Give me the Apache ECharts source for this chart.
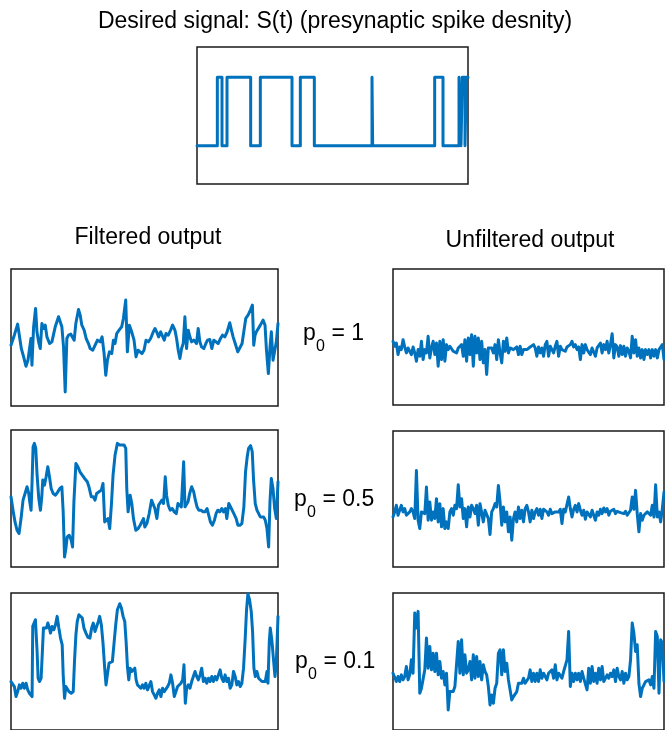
<!DOCTYPE html>
<html>
<head>
<meta charset="utf-8">
<script src="https://cdn.jsdelivr.net/npm/echarts@6/dist/echarts.min.js"></script>
<style>
	html, body { margin: 0; padding: 0; background: #fff; }
	#chart { width: 665px; height: 730px; }
</style>
</head>
<body>
<div id="chart"></div>
<script>

	/*
	 * 期望信号 S(t): 跳变时刻与电平
	 */
	var sTimes = [0, 61, 75, 90, 161, 190, 285, 310, 352, 525, 527, 713, 738, 786, 792, 796, 804, 808, 813];
	var sLevels = [0, 1, 0, 1, 0, 1, 0, 1, 0, 1, 0, 1, 0, 1, 0, 1, 0, 1, 1];

	/*
	 * 滤波输出 (p0 = 1, 0.5, 0.1)
	 */
	var filt1T = [0, 10, 20, 26, 31, 38, 45, 51, 56, 60, 63, 68, 74, 78, 83, 88, 93, 98, 103, 108,
		116, 123, 133, 143, 148, 153, 158, 163, 168, 173, 180, 186, 190, 195, 203, 208, 213, 220, 226, 233,
		238, 246, 253, 260, 268, 274, 280, 285, 290, 296, 303, 308, 313, 318, 325, 333, 338, 345, 350, 356,
		363, 370, 376, 382, 388, 394, 400, 406, 413, 420, 428, 433, 438, 444, 450, 456, 461, 466, 473, 480,
		486, 493, 498, 503, 508, 513, 518, 523, 528, 533, 538, 543, 550, 558, 563, 568, 573, 580, 586, 591,
		598, 604, 610, 616, 623, 630, 636, 643, 650, 658, 663, 668, 676, 682, 688, 695, 701, 706, 713, 720,
		726, 730, 734, 738, 744, 750, 758, 764, 768, 774, 779, 783, 788, 793, 798, 803];
	var filt1V = [-23, 7, 40, 44, -33, -58, -86, -68, -66, -3, -83, 32, 87, 17, -13, -33, 42, 27, 37, 2,
		-18, -13, 32, 62, 67, 32, -28, -163, -3, 7, 10, 14, -8, 42, 84, 67, 37, 22, -3, -18,
		-33, -38, -23, -8, -13, 2, -48, -113, -68, -43, -48, -8, -18, 12, 22, 32, 57, 112, -43, 37,
		17, -8, -58, -38, -33, -48, -38, -8, -13, -3, 17, 27, 17, 2, 17, 20, -8, 12, 7, 22,
		37, 22, -3, -38, -63, -33, -18, 62, -33, 22, 2, -13, -8, -18, 27, -13, -28, -33, -18, -8,
		-6, -33, -8, -13, -18, -3, 7, 2, 17, 44, 22, 2, -23, -43, -48, -18, -23, 57, 67, 82,
		97, -23, 7, 17, 22, 37, 52, 37, -33, -108, -28, 17, -68, -73, -13, 42];

	var filt2T = [0, 6, 12, 18, 24, 30, 36, 42, 48, 53, 56, 60, 63, 66, 70, 74, 78, 83, 88, 92,
		95, 100, 105, 110, 115, 120, 126, 133, 140, 146, 152, 156, 160, 164, 168, 174, 180, 184, 188, 194,
		200, 206, 213, 220, 228, 233, 240, 246, 251, 256, 263, 270, 275, 280, 285, 290, 295, 300, 305, 311,
		318, 325, 330, 338, 343, 346, 350, 356, 361, 366, 373, 380, 386, 391, 396, 400, 406, 413, 420, 425,
		430, 436, 441, 446, 451, 456, 461, 465, 470, 476, 482, 488, 494, 499, 504, 509, 513, 516, 520, 524,
		529, 534, 540, 546, 551, 556, 561, 568, 574, 580, 586, 591, 596, 602, 608, 613, 618, 624, 630, 635,
		641, 645, 651, 656, 661, 666, 673, 678, 684, 690, 696, 701, 706, 710, 716, 721, 725, 730, 735, 740,
		745, 750, 755, 760, 765, 770, 774, 778, 783, 788, 793, 798];
	var filt2V = [5, -35, -70, -95, -105, -60, -5, 15, 35, 15, -10, -35, 50, 155, 165, 150, 70, 0, -35, 5,
		55, 40, 65, 95, 65, 30, 15, 10, 20, 30, 35, -40, -175, -150, -115, -110, -125, -145, -10, 105,
		95, 80, 70, 60, 50, 35, 5, 5, -5, 15, 20, 25, 45, -70, -75, -60, -90, -20, 70, 130,
		165, 160, 155, 160, 150, 30, -40, 10, -15, -60, -95, -90, -80, -85, -60, -85, -75, -45, -5, 0,
		-30, -60, -20, -15, -5, -15, 65, 10, -20, -35, -30, -40, -45, -15, -10, -25, -20, 110, -25, -20,
		-10, 15, 35, 20, -5, -25, -35, -35, -40, -40, -30, -35, -70, -80, -65, -45, -35, -40, -30, -40,
		-30, -60, -15, -10, -35, -40, -60, -80, -80, -75, -25, 80, 125, 150, 158, 140, 55, -15, -35, -40,
		-55, -60, -55, -65, -90, -145, -10, 60, 30, -30, -60, 50];

	var filt3T = [0, 5, 10, 15, 20, 25, 30, 35, 40, 45, 50, 55, 60, 63, 65, 69, 73, 78, 81, 85,
		90, 94, 97, 101, 106, 110, 115, 118, 123, 128, 133, 138, 143, 148, 153, 156, 160, 164, 168, 173,
		180, 186, 190, 194, 198, 203, 208, 213, 218, 224, 230, 236, 241, 246, 251, 256, 261, 265, 270, 275,
		280, 284, 288, 293, 298, 303, 308, 313, 318, 325, 330, 335, 340, 344, 348, 352, 356, 361, 366, 370,
		374, 378, 383, 388, 393, 398, 403, 408, 413, 418, 423, 428, 433, 438, 443, 448, 453, 458, 463, 468,
		473, 478, 483, 488, 493, 498, 503, 508, 513, 517, 521, 525, 530, 535, 540, 545, 550, 555, 560, 565,
		570, 575, 580, 585, 590, 595, 600, 605, 610, 615, 620, 625, 630, 635, 640, 645, 650, 655, 660, 665,
		670, 675, 680, 685, 690, 695, 700, 704, 708, 713, 718, 722, 726, 730, 735, 740, 745, 750, 755, 760,
		765, 768, 772, 775, 780, 785, 789, 793, 798];
	var filt3V = [-60, -65, -75, -105, -90, -70, -80, -65, -80, -65, -85, -95, -90, -105, 105, 115, 125, 30, -50, -60,
		-50, 35, 100, 105, 100, 115, 100, 85, 105, 95, 110, 135, 100, 70, 50, -40, -110, -75, -70, -90,
		-95, -90, 5, 80, 120, 140, 135, 130, 100, 85, 72, 70, 100, 115, 90, 95, 120, 135, 110, 55,
		-20, -70, -40, -5, -10, 0, 55, 110, 155, 173, 160, 135, 120, 60, -15, -55, -20, -30, -35, -20,
		-55, -70, -75, -80, -70, -80, -65, -85, -80, -60, -90, -100, -110, -95, -85, -105, -80, -90, -85, -75,
		-65, -40, -65, -105, -90, -75, -70, -65, -55, -10, -125, -80, -70, -80, -60, -65, -30, -45, -55, -40,
		-20, -60, -50, -65, -50, -60, -45, -60, -45, -55, -40, -25, -50, -60, -40, -60, -50, -80, -70, -30,
		-45, -70, -60, -75, -65, -20, 70, 155, 202, 185, 150, 90, -20, -45, -30, -50, -45, -60, -55, -60,
		-30, -65, 60, 100, 60, 0, -45, -5, 135];

	/*
	 * 未滤波输出, 等间隔采样
	 */
	var rawStep = 5;

	var raw1V = [-13, -28, -18, -53, -30, -38, -8, -30, -48, -33, -43, -53, -30, -48, -73, -38, -58, -13, -68, -38,
		-48, 2, -63, -33, -13, -53, -18, -88, -13, -68, -8, -73, -23, -38, -28, -33, -43, -38, -48, -33,
		-38, -23, -58, -8, -73, -3, -53, 7, -88, 2, -48, -3, -68, -13, -78, -38, -113, -33, -38, -33,
		-48, -23, -68, -8, -48, -78, -13, -43, -3, -48, -33, -38, -38, -38, -30, -53, -28, -53, -38, -33,
		-38, -33, -30, -28, -23, -33, -58, -30, -48, -33, -58, -23, -13, -58, -28, -38, -48, -28, -13, -58,
		-28, -38, -33, -43, -30, -33, -23, -13, -30, -23, -38, -30, -68, -23, -48, -23, -38, -33, -53, -33,
		-28, -58, -33, -33, -18, -48, -23, -38, -13, -48, -23, 10, -63, -23, -30, -58, -26, -53, -28, -58,
		-33, -43, -63, 2, -48, -8, -58, -33, -63, -38, -68, -38, -53, -38, -63, -38, -58, -38, -63, -38,
		-38, -23, -68];

	var raw2V = [-54, -39, -19, -49, -34, -19, -39, -29, -49, -44, -39, -29, -39, -59, 86, -64, -89, -39, -34, -44,
		36, -64, -9, -64, -39, -59, 1, -69, -14, -84, -29, -89, -69, -89, -39, -29, -49, -19, -29, 43,
		-24, 1, -59, -29, -84, -24, -54, -19, -29, -44, -19, -79, -14, -9, -69, -34, -39, -59, -107, -39,
		-29, -14, -24, 41, -9, -79, -24, -69, -39, -99, -54, -124, -59, -39, -69, -24, -59, -34, -69, -29,
		-19, -39, -69, -34, -59, -39, -29, -49, -31, -59, -31, -37, -39, -49, -31, -44, -39, -39, -44, -39,
		-31, -74, -31, -39, -34, 6, -29, -54, -31, -19, -39, -14, -34, -49, -34, -61, -39, -39, -54, -34,
		-39, -64, -39, -49, -31, -44, -27, -39, -29, -49, -37, -39, -31, -44, -37, -39, -41, -37, -44, -37,
		-49, -44, -34, 6, -31, 26, -44, -99, -44, -64, -49, -54, -39, -34, -49, -19, -54, 43, -54, -39,
		-69, -29, 21];

	var raw3V = [-35, -40, -60, -45, -60, -40, -55, -45, -15, -55, -40, 5, -35, 145, 100, 150, -95, -80, -85, -25,
		70, -20, 45, -25, 25, -30, 25, -40, 0, -50, -30, -70, -35, -145, -90, -85, -90, -75, -70, 60,
		-35, 65, -40, 20, -35, -25, 0, -55, 20, -50, 15, -45, 0, -55, -10, -30, -40, -75, -130, -100,
		-125, -80, -65, 25, 35, -40, 35, -30, -5, -55, -60, -115, -105, -100, -90, -65, -60, -65, -50, -65,
		-60, -50, -25, -60, -35, -60, -35, -60, -25, -50, -35, -30, -55, -35, -40, -25, -50, -10, -55, -35,
		-40, -50, -30, -30, 5, 90, -75, -35, -60, -35, -55, -35, -60, -30, -50, -55, -85, -20, -65, -15,
		-60, -35, -65, -20, -55, -15, -60, -55, -40, -50, -35, -45, -25, -60, -20, -45, -55, -30, -65, -35,
		-55, -45, 5, 115, 85, 30, 50, -65, -105, -80, -70, -60, -65, -55, -70, -45, -80, 90, 75, -95,
		65, 55, -60];

	/*
	 * 文字
	 */
	var titleText = "Desired signal: S(t) (presynaptic spike desnity)";
	var colTitles = ["Filtered output", "Unfiltered output"];
	var pLabels = ["1", "0.5", "0.1"];

	var LINE = "#0072BD", FRAME = "#1a1a1a", FONT = "'Liberation Sans', Arial, sans-serif";

	function pairs(t, v) {

		return v.map(function(y, i) {

			return [t[i], y];

		});

	}

	function evenPairs(v, step) {

		return v.map(function(y, i) {

			return [i * step, y];

		});

	}

	function axisX(i, max) {

		return {
			type: "value", gridIndex: i, min: 0, max: max,
			show: false, splitLine: { show: false }
		};

	}

	function axisY(i, min, max) {

		return {
			type: "value", gridIndex: i, min: min, max: max,
			show: false, splitLine: { show: false }
		};

	}

	function line(i, data, step) {

		return {
			type: "line", xAxisIndex: i, yAxisIndex: i,
			data: data, step: step || false,
			showSymbol: false, silent: true, animation: false,
			lineStyle: { color: LINE, width: 3, cap: "round", join: "round" }
		};

	}

	function text(str, x, y, size, align) {

		return {
			type: "text", x: x, y: y, silent: true,
			style: {
				text: str, font: size + "px " + FONT, fill: "#000",
				align: align || "left", verticalAlign: "middle",
				textAlign: align || "left", textVerticalAlign: "middle"
			}
		};

	}

	/*
	 * 初始化图表
	 */
	var chart = echarts.init(document.getElementById("chart"), null, { renderer: "canvas" });

	var box = { show: true, borderColor: FRAME, borderWidth: 1.5, backgroundColor: "#fff" };

	var grids = [
		[197, 47, 271, 137],
		[11, 269, 267, 137],
		[393, 269, 271, 136],
		[11, 430, 267, 137],
		[393, 431, 271, 136],
		[11, 593, 267, 139],
		[393, 593, 271, 139]
	].map(function(g) {

		return Object.assign({ left: g[0], top: g[1], width: g[2], height: g[3] }, box);

	});

	var sStep = pairs(sTimes, sLevels);

	var graphic = [
		text(titleText, 335, 22, 23, "center"),
		text(colTitles[0], 148, 238, 23, "center"),
		text(colTitles[1], 530, 241, 23, "center")
	];

	[[303, 334], [294, 500], [295, 662]].forEach(function(p, i) {

		graphic.push(text("p", p[0], p[1], 23));
		graphic.push(text("0", p[0] + 13, p[1] + 13, 16));
		graphic.push(text(" = " + pLabels[i], p[0] + 22, p[1], 23));

	});

	chart.setOption({
		animation: false,
		grid: grids,
		xAxis: [
			axisX(0, 813),
			axisX(1, "dataMax"), axisX(2, "dataMax"),
			axisX(3, "dataMax"), axisX(4, "dataMax"),
			axisX(5, "dataMax"), axisX(6, "dataMax")
		],
		yAxis: [
			axisY(0, -0.56, 1.44),
			axisY(1, -205, 205), axisY(2, -205, 205),
			axisY(3, -205, 205), axisY(4, -205, 205),
			axisY(5, -205, 205), axisY(6, -205, 205)
		],
		series: [
			line(0, sStep, "end"),
			line(1, pairs(filt1T, filt1V)),
			line(2, evenPairs(raw1V, rawStep)),
			line(3, pairs(filt2T, filt2V)),
			line(4, evenPairs(raw2V, rawStep)),
			line(5, pairs(filt3T, filt3V)),
			line(6, evenPairs(raw3V, rawStep))
		],
		graphic: graphic
	});

</script>
</body>
</html>
